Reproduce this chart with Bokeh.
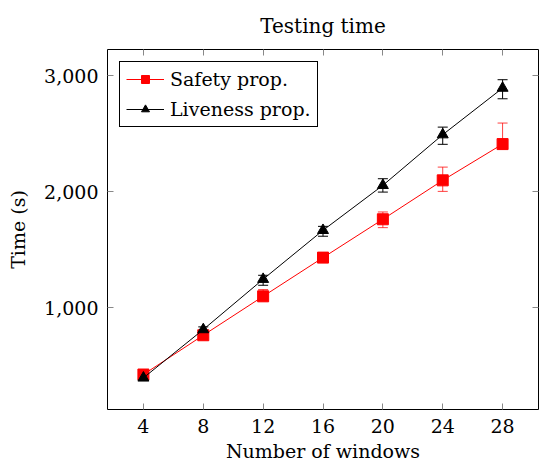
from bokeh.plotting import figure
from bokeh.models import (ColumnDataSource, Whisker, TeeHead, FixedTicker,
                          NumeralTickFormatter, LinearAxis, Range1d,
                          CustomJSTickFormatter)
from bokeh.embed import file_html
from bokeh.resources import INLINE

windows = [4, 8, 12, 16, 20, 24, 28]
x_ticks = [4, 8, 12, 16, 20, 24, 28]
y_ticks = [1000, 2000, 3000]

safety = [427, 765, 1100, 1433, 1763, 2098, 2410]
safety_err_up = [15, 20, 58, 25, 63, 114, 181]
safety_err_down = [15, 20, 40, 25, 72, 95, 45]

liveness = [398, 814, 1247, 1668, 2055, 2491, 2892]
liveness_err_up = [12, 23, 34, 34, 57, 65, 72]
liveness_err_down = [12, 23, 52, 51, 58, 83, 92]

FONT = "DejaVu Serif"
FS = "19px"

src_s = ColumnDataSource(dict(
    x=windows, y=safety,
    upper=[v + e for v, e in zip(safety, safety_err_up)],
    lower=[v - e for v, e in zip(safety, safety_err_down)]))
src_l = ColumnDataSource(dict(
    x=windows, y=liveness,
    upper=[v + e for v, e in zip(liveness, liveness_err_up)],
    lower=[v - e for v, e in zip(liveness, liveness_err_down)]))

p = figure(width=539, height=465, output_backend="svg", toolbar_location=None,
           x_range=Range1d(1.6, 30.4), y_range=Range1d(126, 3224),
           title="Testing time")
p.min_border_left = 107
p.min_border_right = 1
p.min_border_top = 49
p.min_border_bottom = 56

p.title.text_font = FONT
p.title.text_font_size = "20px"
p.title.text_font_style = "normal"
p.title.align = "center"
p.title.vertical_align = "top"
p.title.text_color = "black"
p.title.standoff = 20

p.grid.visible = False
p.outline_line_color = "black"
p.outline_line_alpha = 1
p.outline_line_width = 1

# error bars
p.add_layout(Whisker(source=src_s, base="x", upper="upper", lower="lower",
                     line_color="red", line_alpha=0.75, line_width=1,
                     upper_head=TeeHead(size=10, line_color="red", line_alpha=0.75),
                     lower_head=TeeHead(size=10, line_color="red", line_alpha=0.75)))
p.add_layout(Whisker(source=src_l, base="x", upper="upper", lower="lower",
                     line_color="black", line_width=1,
                     upper_head=TeeHead(size=10, line_color="black"),
                     lower_head=TeeHead(size=10, line_color="black")))

p.line("x", "y", source=src_s, line_color="red", line_width=1, legend_label="Safety prop.")
p.scatter("x", "y", source=src_s, marker="square", size=11, fill_color="red",
          line_color="red", legend_label="Safety prop.")
p.line("x", "y", source=src_l, line_color="black", line_width=1, legend_label="Liveness prop.")
p.scatter("x", "y", source=src_l, marker="triangle", size=11, fill_color="black",
          line_color="black", legend_label="Liveness prop.")

def style_axis(ax, fs=FS):
    ax.axis_line_color = None
    ax.major_tick_in = 6
    ax.major_tick_out = 0
    ax.minor_tick_line_color = None
    ax.major_tick_line_color = "#888888"
    ax.major_label_text_font = FONT
    ax.major_label_text_font_size = fs
    ax.major_label_text_color = "black"
    ax.axis_label_text_font = FONT
    ax.axis_label_text_font_size = FS
    ax.axis_label_text_font_style = "normal"
    ax.axis_label_text_color = "black"

p.xaxis.ticker = FixedTicker(ticks=x_ticks)
p.yaxis.ticker = FixedTicker(ticks=y_ticks)
p.yaxis.formatter = NumeralTickFormatter(format="0,0")
p.xaxis.axis_label = "Number of windows"
p.yaxis.axis_label = "Time (s)"
style_axis(p.xaxis[0])
style_axis(p.yaxis[0])
p.xaxis.major_label_standoff = 9
p.yaxis.major_label_standoff = 9
p.xaxis.axis_label_standoff = 4
p.yaxis.axis_label_standoff = 12

blank = CustomJSTickFormatter(code="return ''")
top_ax = LinearAxis(ticker=FixedTicker(ticks=x_ticks), formatter=blank,
                    major_label_standoff=0)
right_ax = LinearAxis(ticker=FixedTicker(ticks=y_ticks), formatter=blank,
                      major_label_standoff=0)
style_axis(top_ax, "1px")
style_axis(right_ax, "1px")
p.add_layout(top_ax, "above")
p.add_layout(right_ax, "right")

lg = p.legend[0]
lg.location = "top_left"
lg.margin = 12
lg.padding = 6
lg.spacing = 8
lg.label_text_font = FONT
lg.label_text_font_size = FS
lg.label_text_color = "black"
lg.glyph_width = 38
lg.glyph_height = 20
lg.label_height = 20
lg.label_standoff = 6
lg.border_line_color = "black"
lg.border_line_width = 1
lg.border_line_alpha = 1
lg.background_fill_color = "white"
lg.background_fill_alpha = 1

open("out.html", "w").write(file_html(p, INLINE))
